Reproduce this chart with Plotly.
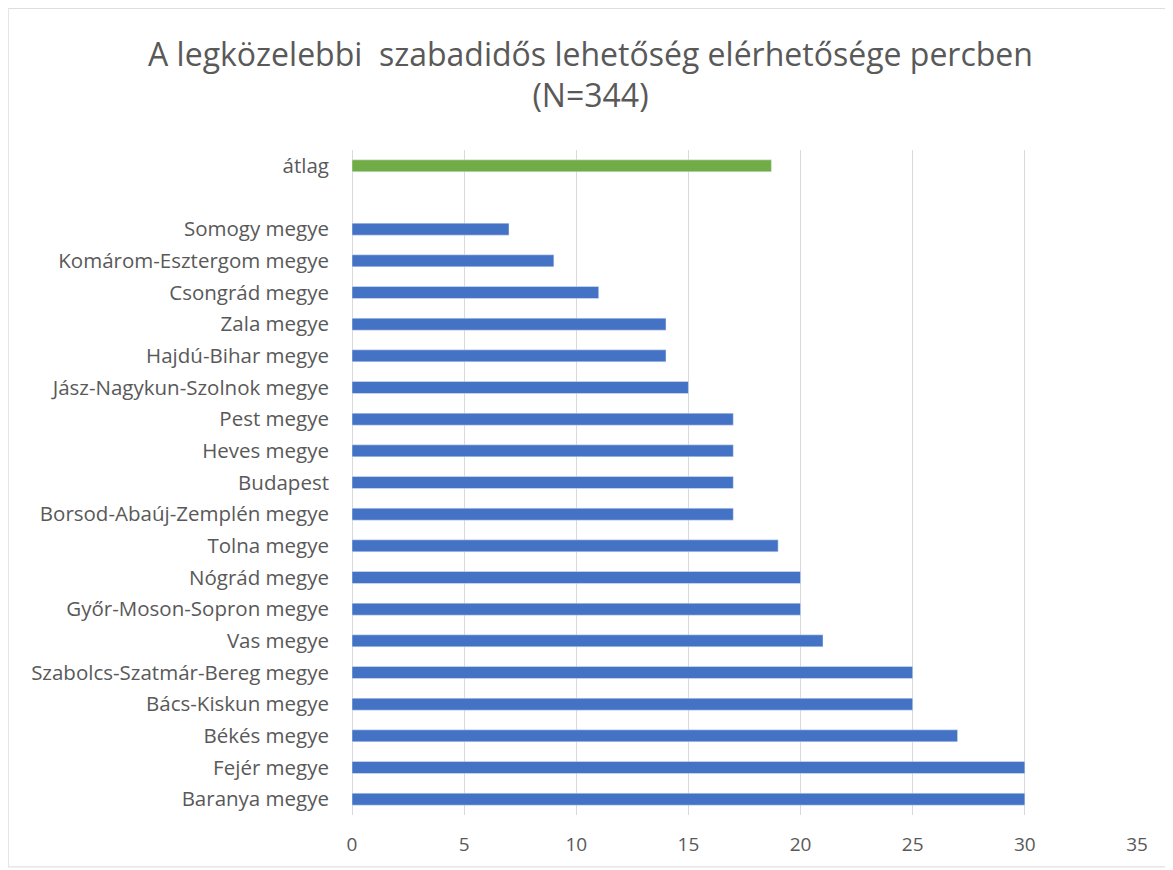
import plotly.graph_objects as go

BLUE = '#4472C4'
GREEN = '#70AD47'
TEXT = '#595959'
GRID = '#D9D9D9'
FONT = 'Open Sans'

# bottom to top
megyek = ['Baranya megye', 'Fejér megye', 'Békés megye', 'Bács-Kiskun megye',
          'Szabolcs-Szatmár-Bereg megye', 'Vas megye', 'Győr-Moson-Sopron megye',
          'Nógrád megye', 'Tolna megye', 'Borsod-Abaúj-Zemplén megye', 'Budapest',
          'Heves megye', 'Pest megye', 'Jász-Nagykun-Szolnok megye', 'Hajdú-Bihar megye',
          'Zala megye', 'Csongrád megye', 'Komárom-Esztergom megye', 'Somogy megye']
percek = [30, 30, 27, 25, 25, 21, 20, 20, 19, 17, 17, 17, 17, 15, 14, 14, 11, 9, 7]

atlag_label = ['átlag']
atlag_value = [18.7]

categories = megyek + [' '] + atlag_label
xticks = [0, 5, 10, 15, 20, 25, 30, 35]

fig = go.Figure()
fig.add_trace(go.Bar(
    y=megyek, x=percek, orientation='h',
    marker=dict(color=BLUE), width=0.38,
    hoverinfo='x+y'
))
fig.add_trace(go.Bar(
    y=atlag_label, x=atlag_value, orientation='h',
    marker=dict(color=GREEN), width=0.38,
    hoverinfo='x+y'
))

fig.update_layout(
    width=1165, height=862,
    showlegend=False,
    paper_bgcolor='white', plot_bgcolor='white',
    margin=dict(l=344, r=36, t=142, b=55, autoexpand=False),
    font=dict(family=FONT, color=TEXT),
    title=dict(
        text='A legközelebbi  szabadidős lehetőség elérhetősége percben<br>(N=344)',
        x=0.5, xanchor='center', y=0.933, yanchor='top',
        font=dict(family=FONT, size=32, color=TEXT)
    ),
    shapes=[dict(type='rect', xref='paper', yref='paper',
                 x0=-0.438, x1=1.038, y0=-0.078, y1=1.213,
                 line=dict(color='#D9D9D9', width=1), layer='below')]
)

fig.update_xaxes(
    range=[0, 35], tickvals=xticks, showgrid=True, gridcolor=GRID, gridwidth=1,
    zeroline=True, zerolinecolor=GRID, zerolinewidth=1,
    showline=False, ticks='', ticklen=0, ticklabelstandoff=16,
    tickfont=dict(family=FONT, size=19, color=TEXT), fixedrange=True
)
fig.update_yaxes(
    type='category', categoryorder='array', categoryarray=categories,
    range=[-0.5, len(categories) - 0.5], showgrid=False, showline=False,
    ticks='', ticklabelstandoff=22,
    tickfont=dict(family=FONT, size=20.5, color=TEXT), fixedrange=True
)

fig.write_html('out.html')
